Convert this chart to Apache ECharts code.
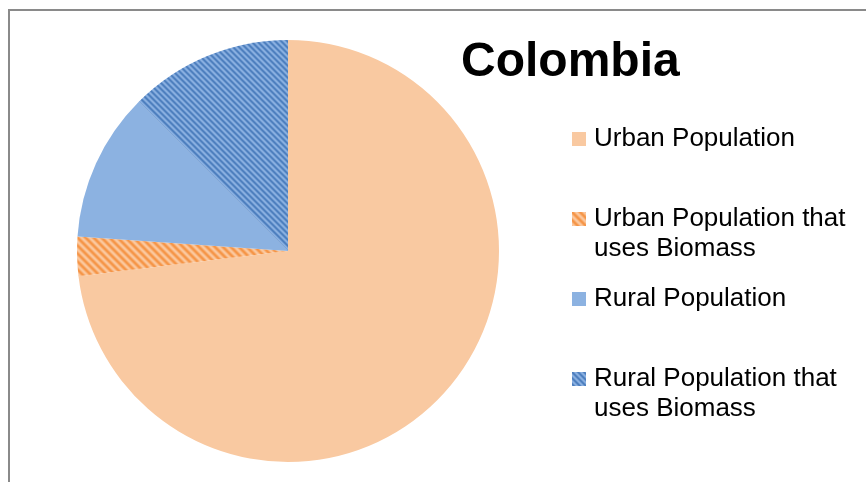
<!DOCTYPE html>
<html>
<head>
<meta charset="utf-8">
<script src="https://cdn.jsdelivr.net/npm/echarts@6/dist/echarts.min.js"></script>
<style>
  html, body { margin: 0; padding: 0; background: #fff; }
  #main { width: 866px; height: 482px; }
</style>
</head>
<body>
<div id="main"></div>
<script>
// chart data
var categories = ['Urban Population', 'Urban Population that uses Biomass', 'Rural Population', 'Rural Population that uses Biomass'];
var shares = [73.1, 3.0, 11.4, 12.5];
var legendLabels = ['Urban Population', 'Urban Population that\nuses Biomass', 'Rural Population', 'Rural Population that\nuses Biomass'];

// diagonal stripe pattern ("\" direction), soft edges like the reference
function stripes(period, dark, light) {
  var c = document.createElement('canvas');
  c.width = period; c.height = period;
  var ctx = c.getContext('2d');
  var img = ctx.createImageData(period, period);
  for (var y = 0; y < period; y++) {
    for (var x = 0; x < period; x++) {
      var t = (Math.cos(2 * Math.PI * (x - y) / period) + 1) / 2;
      var i = (y * period + x) * 4;
      for (var k = 0; k < 3; k++) {
        img.data[i + k] = Math.round(dark[k] * t + light[k] * (1 - t));
      }
      img.data[i + 3] = 255;
    }
  }
  ctx.putImageData(img, 0, 0);
  return { image: c, repeat: 'repeat' };
}

var colors = [
  '#F9C9A1',
  stripes(8, [245, 148, 70], [251, 201, 160]),
  '#8CB2E1',
  stripes(6, [74, 124, 188], [141, 178, 226])
];

var myChart = echarts.init(document.getElementById('main'));

var pieData = [];
for (var i = 0; i < categories.length; i++) {
  pieData.push({ name: categories[i], value: shares[i], itemStyle: { color: colors[i] } });
}

var option = {
  animation: false,
  title: {
    text: 'Colombia',
    left: 456,
    top: 34,
    textStyle: {
      fontFamily: 'Liberation Sans, Arial, sans-serif',
      fontSize: 48,
      fontWeight: 'bold',
      color: '#000'
    }
  },
  legend: {
    orient: 'vertical',
    left: 572,
    top: 124,
    padding: 0,
    itemGap: 20,
    itemWidth: 14,
    itemHeight: 14,
    icon: 'rect',
    selectedMode: false,
    data: categories,
    formatter: function(name) {
      var lines = legendLabels[categories.indexOf(name)].split('\n');
      var out = lines.map(function(l) { return '{t|' + l + '}'; }).join('\n');
      // leading blank line keeps the marker level with the first line
      return lines.length > 1 ? '{t|}\n' + out : out;
    },
    textStyle: {
      fontFamily: 'Liberation Sans, Arial, sans-serif',
      fontSize: 26,
      lineHeight: 30,
      color: '#000',
      rich: {
        t: {
          fontFamily: 'Liberation Sans, Arial, sans-serif',
          fontSize: 26,
          lineHeight: 30,
          color: '#000',
          padding: [0, 0, 0, 3]
        }
      }
    }
  },
  graphic: [{
    type: 'rect',
    shape: { x: 9, y: 10, width: 900, height: 500 },
    style: { fill: 'none', stroke: '#8a8a8a', lineWidth: 2 },
    silent: true
  }],
  series: [{
    type: 'pie',
    center: [288, 251],
    radius: 211,
    startAngle: 90,
    clockwise: true,
    label: { show: false },
    labelLine: { show: false },
    emphasis: { disabled: true },
    itemStyle: { borderWidth: 0 },
    data: pieData
  }]
};

myChart.setOption(option);
</script>
</body>
</html>
